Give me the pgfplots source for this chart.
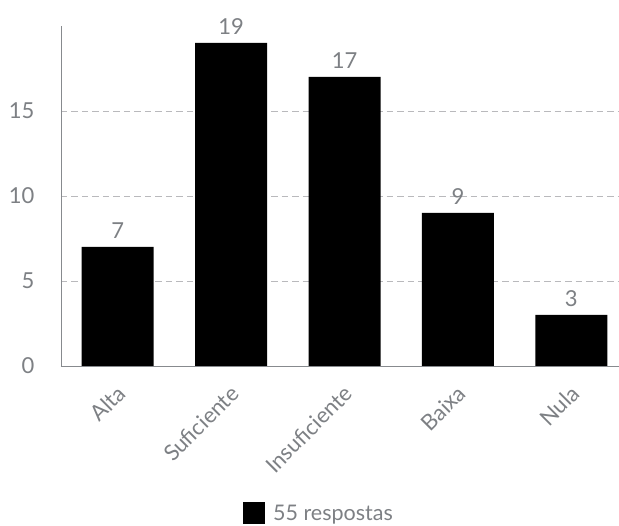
\documentclass[border=0pt]{standalone}
\usepackage{pgfplots}
\pgfplotsset{compat=1.18}
\usepackage{fontspec}
\setmainfont{Lato}
\definecolor{txt}{RGB}{125,128,132}
\definecolor{axl}{RGB}{135,138,142}
\definecolor{grd}{RGB}{185,185,188}
\begin{document}
\begin{tikzpicture}
\useasboundingbox (-61pt,-160pt) rectangle (558pt,366pt);
\begin{axis}[
  at={(0pt,0pt)}, anchor=south west,
  scale only axis, width=558pt, height=340pt,
  xmin=-0.5, xmax=4.42, ymin=0, ymax=20,
  axis x line=bottom, axis y line=left,
  axis line style={-, color=axl, line width=0.9pt},
  xtick={0,1,2,3,4},
  xticklabels={Alta,Suficiente,Insuficiente,Baixa,Nula},
  ytick={0,5,10,15},
  ymajorgrids,
  grid style={dash pattern=on 6.5pt off 4pt, grd, line width=0.9pt},
  major tick length=0pt,
  tick label style={font=\fontsize{22}{22}\selectfont, text=txt},
  /pgf/number format/assume math mode=true,
  yticklabel style={xshift=-23pt},
  xticklabel style={xshift=-2pt, yshift=-13pt, rotate=45, anchor=north east},
  ybar, bar width=72pt,
  nodes near coords,
  nodes near coords style={font=\fontsize{22}{22}\selectfont, text=txt, yshift=5pt},
  legend style={at={(0.326,-0.433)}, anchor=west, draw=none, fill=none,
     inner sep=0pt, font=\fontsize{21.5}{21.5}\selectfont, text=txt},
  legend cell align=left,
]
\addplot[fill=black, draw=none,
  legend image code/.code={\fill[black] (0pt,-11pt) rectangle (22pt,11pt); \path (28pt,0pt);}]
  coordinates {(0,7) (1,19) (2,17) (3,9) (4,3)};
\addlegendentry{55 respostas}
\end{axis}
\end{tikzpicture}
\end{document}
